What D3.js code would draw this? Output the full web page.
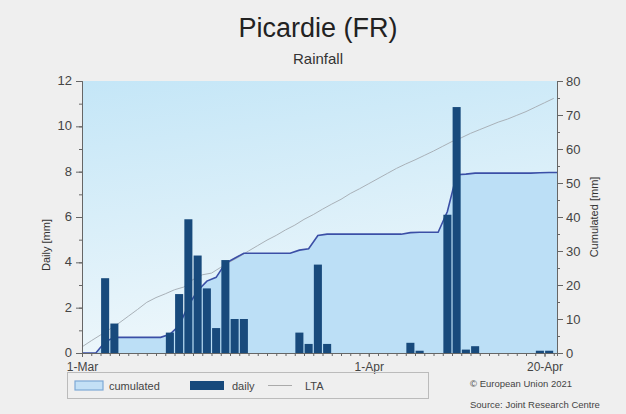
<!DOCTYPE html>
<html>
<head>
<meta charset="utf-8">
<script src="https://cdn.jsdelivr.net/npm/d3@7"></script>
<style>
  body { margin: 0; background: #efefef; font-family: "Liberation Sans", Arial, sans-serif; }
  svg { display: block; }
</style>
</head>
<body>
<svg id="chart"></svg>
<script>
// daily rainfall, 1-Mar .. 20-Apr (index 0 = 1-Mar)
var daily = [0, 0, 3.3, 1.3, 0, 0, 0, 0, 0, 0.9,
             2.6, 5.9, 4.3, 2.85, 1.1, 4.1, 1.5, 1.5, 0, 0,
             0, 0, 0, 0.9, 0.4, 3.9, 0.4, 0, 0, 0,
             0, 0, 0, 0, 0, 0.45, 0.1, 0, 0, 6.1,
             10.85, 0.15, 0.3, 0, 0, 0, 0, 0, 0, 0.1, 0.1];
// long term average, cumulated
var lta = [1.8, 3.6, 5.3, 7.0, 8.8, 10.8, 12.8, 14.9, 16.3, 17.4,
           18.6, 19.4, 21.6, 23.0, 23.5, 25.2, 26.8, 28.3, 30.0, 31.6,
           33.2, 34.6, 36.2, 37.6, 39.3, 40.7, 42.3, 43.8, 45.2, 46.9,
           48.3, 49.8, 51.3, 52.8, 54.3, 55.6, 56.8, 58.1, 59.4, 60.8,
           62.2, 63.3, 64.6, 65.7, 66.8, 67.9, 68.8, 69.9, 71.0, 72.3,
           73.6, 74.9];
var tickDays = [0, 31, 50];
var tickLabels = ["1-Mar", "1-Apr", "20-Apr"];

function init(){
    var W = 626, H = 414;
    var margin = {top: 81, right: 69, bottom: 61, left: 82};
    var width = W - margin.left - margin.right;
    var height = H - margin.top - margin.bottom;

    var svg = d3.select("#chart").attr("width", W).attr("height", H);

    // titles
    svg.append("text").attr("x", 318).attr("y", 37).attr("text-anchor", "middle")
        .attr("font-size", 27).attr("fill", "#222").text("Picardie (FR)");
    svg.append("text").attr("x", 318).attr("y", 64).attr("text-anchor", "middle")
        .attr("font-size", 15).attr("fill", "#333").text("Rainfall");

    var g = svg.append("g").attr("transform", "translate(" + margin.left + "," + margin.top + ")");

    // scales
    var x = d3.scaleLinear().domain([0, 51.35]).range([0, width]);
    var y = d3.scaleLinear().domain([0, 12]).range([height, 0]);
    var y2 = d3.scaleLinear().domain([0, 80]).range([height, 0]);

    // plot background gradient
    var defs = svg.append("defs");
    var grad = defs.append("linearGradient").attr("id", "bg")
        .attr("x1", 0).attr("y1", 0).attr("x2", 0.25).attr("y2", 1);
    grad.append("stop").attr("offset", "0%").attr("stop-color", "#c4e6f7");
    grad.append("stop").attr("offset", "100%").attr("stop-color", "#eef7fb");
    g.append("rect").attr("width", width).attr("height", height).attr("fill", "url(#bg)");

    // cumulated series
    var cum = d3.cumsum(daily);
    var cumPts = [[0, 0]];
    cum.forEach(function(v, i) { cumPts.push([i + 0.5, v]); });
    cumPts.push([51.35, cum[cum.length - 1]]);

    g.append("path").datum(cumPts)
        .attr("fill", "#bcdff6")
        .attr("d", d3.area().x(function(d) { return x(d[0]); })
            .y0(height).y1(function(d) { return y2(d[1]); }));

    // LTA
    g.append("path").datum(lta)
        .attr("fill", "none").attr("stroke", "#a9b1b8").attr("stroke-width", 1)
        .attr("d", d3.line().x(function(d, i) { return x(i); }).y(function(d) { return y2(d); }));

    // cumulated line
    g.append("path").datum(cumPts)
        .attr("fill", "none").attr("stroke", "#3b4fa6").attr("stroke-width", 1.6)
        .attr("d", d3.line().x(function(d) { return x(d[0]); }).y(function(d) { return y2(d[1]); }));

    // daily bars
    var bw = x(1) - x(0);
    var bars = daily.map(function(v, i) { return {day: i, v: v}; })
        .filter(function(d) { return d.v > 0; });
    g.selectAll(".bar").data(bars).enter()
        .append("rect").attr("class", "bar")
        .attr("x", function(d) { return x(d.day) + 0.6; })
        .attr("y", function(d) { return y(d.v); })
        .attr("width", bw - 1.2)
        .attr("height", function(d) { return height - y(d.v); })
        .attr("fill", "#184a7c");

    // axes
    var axisColor = "#666";
    g.append("g").attr("transform", "translate(0," + height + ")")
        .call(d3.axisBottom(x).tickValues(d3.range(0, 52)).tickSize(3).tickFormat(""));
    g.append("g").attr("class", "xlab").attr("transform", "translate(0," + height + ")")
        .call(d3.axisBottom(x).tickValues(tickDays).tickSize(4).tickPadding(5)
            .tickFormat(function(d, i) { return tickLabels[i]; }))
        .call(function(s) { s.select(".domain").remove(); });

    g.append("g").call(d3.axisLeft(y).ticks(12).tickSize(3).tickFormat(""));
    g.append("g").attr("class", "ylab").call(d3.axisLeft(y).tickValues(d3.range(0, 13, 2)).tickSize(6).tickPadding(4));

    g.append("g").attr("transform", "translate(" + width + ",0)")
        .call(d3.axisRight(y2).tickValues(d3.range(0, 81, 5)).tickSize(3).tickFormat(""));
    g.append("g").attr("transform", "translate(" + width + ",0)")
        .call(d3.axisRight(y2).tickValues(d3.range(0, 81, 10)).tickSize(6).tickPadding(3));

    g.selectAll(".domain, .tick line").attr("stroke", axisColor);
    g.selectAll(".tick text").attr("font-size", 13).attr("fill", "#444")
        .attr("font-family", "Liberation Sans, Arial, sans-serif");
    g.selectAll(".xlab .tick text").attr("font-size", 12);
    g.selectAll(".ylab .tick text").attr("dy", "0.28em");

    // axis titles
    svg.append("text").attr("transform", "translate(50,245) rotate(-90)")
        .attr("text-anchor", "middle").attr("font-size", 11).attr("fill", "#333").text("Daily [mm]");
    svg.append("text").attr("transform", "translate(598,217) rotate(-90)")
        .attr("text-anchor", "middle").attr("font-size", 11).attr("fill", "#333").text("Cumulated [mm]");

    // legend
    var lg = svg.append("g");
    lg.append("rect").attr("x", 67.5).attr("y", 372.5).attr("width", 361).attr("height", 26)
        .attr("fill", "none").attr("stroke", "#bbb");
    lg.append("rect").attr("x", 75).attr("y", 381).attr("width", 28).attr("height", 9)
        .attr("fill", "#c3e0f6").attr("stroke", "#7ea8d6").attr("stroke-width", 1.2);
    lg.append("text").attr("x", 109).attr("y", 389.5).attr("font-size", 11).attr("fill", "#444").text("cumulated");
    lg.append("rect").attr("x", 190).attr("y", 381).attr("width", 34).attr("height", 9)
        .attr("fill", "#184a7c");
    lg.append("text").attr("x", 232).attr("y", 389.5).attr("font-size", 11).attr("fill", "#444").text("daily");
    lg.append("line").attr("x1", 268).attr("x2", 292).attr("y1", 385.5).attr("y2", 385.5)
        .attr("stroke", "#aaa").attr("stroke-width", 1);
    lg.append("text").attr("x", 305).attr("y", 389.5).attr("font-size", 11).attr("fill", "#444").text("LTA");

    svg.append("text").attr("x", 470).attr("y", 387).attr("font-size", 9.5).attr("fill", "#444")
        .text("\u00a9 European Union 2021");
    svg.append("text").attr("x", 470).attr("y", 408).attr("font-size", 9.5).attr("fill", "#444")
        .text("Source: Joint Research Centre");
}
window.onload = init;
</script>
</body>
</html>
